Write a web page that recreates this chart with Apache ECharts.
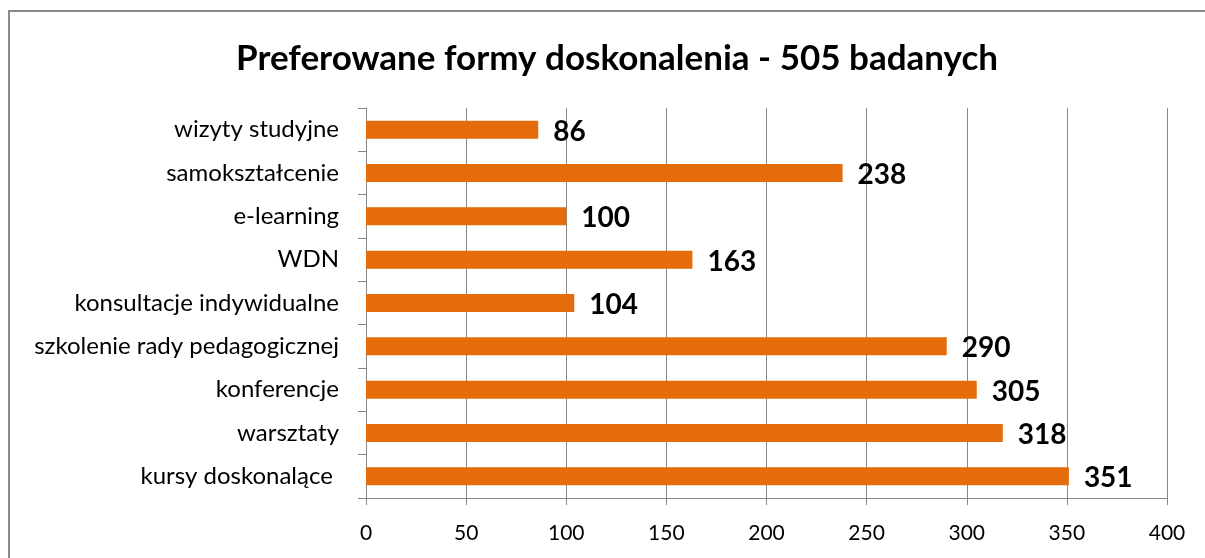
<!DOCTYPE html>
<html>
<head>
<meta charset="utf-8">
<script src="https://cdn.jsdelivr.net/npm/echarts@6/dist/echarts.min.js"></script>
<style>
  html, body { margin: 0; padding: 0; background: #fff; }
  #chart { width: 1205px; height: 558px; }
</style>
</head>
<body>
<div id="chart"></div>
<script>
  // kategorie od góry do dołu
  const categories = [
    'wizyty studyjne',
    'samokształcenie',
    'e-learning',
    'WDN',
    'konsultacje indywidualne',
    'szkolenie rady pedagogicznej',
    'konferencje',
    'warsztaty',
    'kursy doskonalące '
  ]
  const values = [86, 238, 100, 163, 104, 290, 305, 318, 351]
  const xTicks = [0, 50, 100, 150, 200, 250, 300, 350, 400]

  const mChart = echarts.init(document.getElementById('chart'))
  const font = 'Lato, "Open Sans", sans-serif'

  const option = {
    backgroundColor: '#fff',
    animation: false,
    title: {
      text: 'Preferowane formy doskonalenia - 505 badanych',
      left: 231,
      top: 36,
      textStyle: {
        fontFamily: font,
        fontSize: 35,
        fontWeight: 'bold',
        color: '#000'
      }
    },
    graphic: [{
      type: 'rect',
      shape: { x: 9, y: 11, width: 1220, height: 580 },
      style: { fill: 'none', stroke: '#8a8a8a', lineWidth: 2 },
      silent: true
    }],
    grid: {
      left: 366,
      right: 38,
      top: 108,
      bottom: 60
    },
    xAxis: {
      type: 'value',
      min: xTicks[0],
      max: xTicks[xTicks.length - 1],
      interval: 50,
      axisLine: { show: true, lineStyle: { color: '#878787', width: 1 } },
      axisTick: { show: true, length: 7, lineStyle: { color: '#878787' } },
      axisLabel: {
        color: '#000',
        fontFamily: font,
        fontSize: 21,
        margin: 25
      },
      splitLine: { show: true, lineStyle: { color: '#878787', width: 1 } }
    },
    yAxis: {
      type: 'category',
      inverse: true,
      data: categories,
      axisLine: { show: true, lineStyle: { color: '#878787', width: 1 } },
      axisTick: { show: true, length: 8, lineStyle: { color: '#878787' } },
      axisLabel: {
        color: '#000',
        fontFamily: font,
        fontSize: 24,
        margin: 27
      }
    },
    series: [{
      name: 'Preferowane formy doskonalenia',
      type: 'bar',
      barWidth: 18,
      itemStyle: { color: '#e46c0a' },
      label: {
        show: true,
        position: 'right',
        distance: 15,
        offset: [0, 2],
        color: '#000',
        fontFamily: font,
        fontSize: 28,
        fontWeight: 'bold'
      },
      data: values
    }]
  }

  mChart.setOption(option)
  window.addEventListener('resize', function () {
    mChart.resize()
  })
</script>
</body>
</html>
